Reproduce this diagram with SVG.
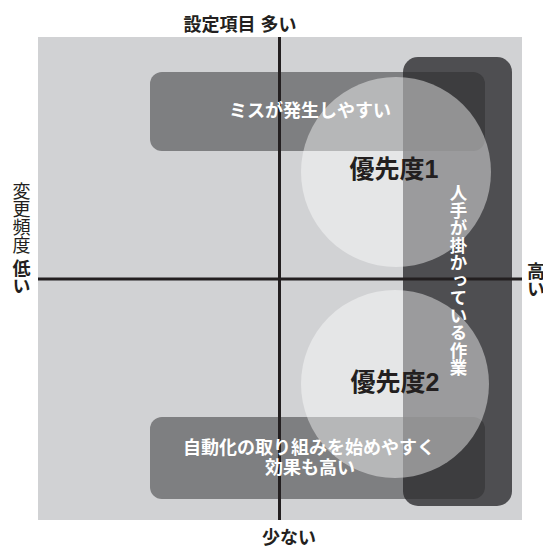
<svg xmlns="http://www.w3.org/2000/svg" width="543" height="548" viewBox="0 0 543 548">
<style>
.jp{font-family:"Liberation Sans","Noto Sans CJK JP",sans-serif;font-weight:bold}
.ax{fill:#231f20;font-size:18px}
.wt{fill:#ffffff;font-size:18px;text-anchor:middle}
.pr{fill:#231f20;font-size:25px;text-anchor:middle}
.mid{fill:#2b2b2e;fill-opacity:0.5}
.cir{fill:#ffffff;fill-opacity:0.44}
.axis{stroke:#231f20;stroke-width:3}
</style>
<rect id="bg" x="38" y="37" width="484" height="483" fill="#d1d2d4"/>
<g id="manual-work">
<rect x="403" y="57" width="109" height="449" rx="15" fill="#4e4e51"/>
</g>
<g id="error-prone">
<rect class="mid" x="150" y="72" width="335" height="79" rx="12"/>
</g>
<g id="automation-easy">
<rect class="mid" x="150" y="417" width="335" height="82" rx="12"/>
</g>
<g id="connectors">
<line class="axis" x1="279.5" y1="37" x2="279.5" y2="520"/>
<line class="axis" x1="38" y1="279" x2="522" y2="279"/>
</g>
<g id="priority1">
<circle class="cir" cx="396" cy="172" r="95"/>
<text class="jp pr" x="394" y="178">優先度1</text>
</g>
<g id="priority2">
<circle class="cir" cx="395" cy="384" r="94"/>
<text class="jp pr" x="395" y="391">優先度2</text>
</g>
<g id="error-prone-label">
<text class="jp wt" x="310" y="117">ミスが発生しやすい</text>
</g>
<g id="automation-label">
<text class="jp wt" x="309" y="454">自動化の取り組みを始めやすく</text>
<text class="jp wt" x="310" y="474">効果も高い</text>
</g>
<g id="manual-work-label">
<text class="jp" x="457" y="184" fill="#ffffff" font-size="17.5" writing-mode="vertical-rl">人手が掛かっている作業</text>
</g>
<g id="axis-labels">
<text class="jp ax" x="240" y="31" text-anchor="middle">設定項目 多い</text>
<text class="jp ax" x="289" y="544" text-anchor="middle" font-size="16">少ない</text>
<text class="jp ax" x="19.5" y="182" writing-mode="vertical-rl" font-size="17"><tspan font-weight="normal">変更頻度</tspan> 低い</text>
<text class="jp ax" x="534" y="262" writing-mode="vertical-rl" font-size="15">高い</text>
</g>
</svg>
